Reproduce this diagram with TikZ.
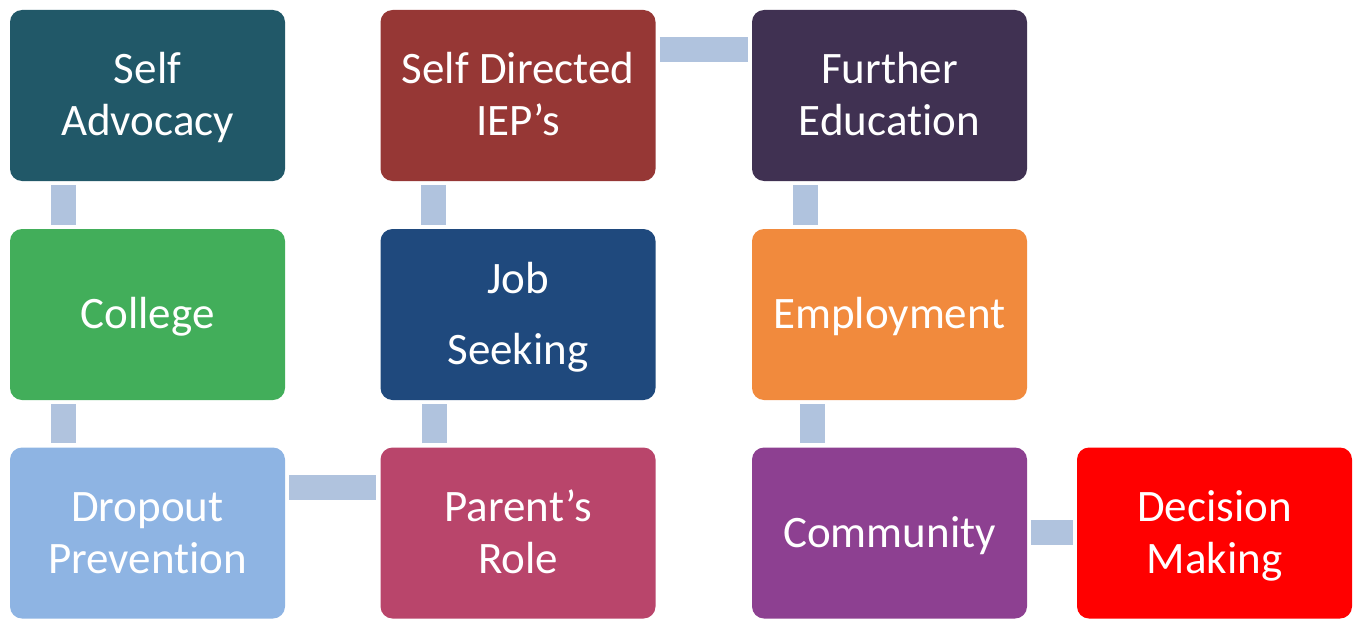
\documentclass[tikz,border=0pt]{standalone}
\usepackage{fontspec}
\setmainfont{Carlito}[Ligatures={TeX,NoCommon}]
\usepackage{tikz}
\definecolor{advocacyTeal}{RGB}{33,88,104}
\definecolor{iepRed}{RGB}{150,55,53}
\definecolor{educationPurple}{RGB}{64,49,82}
\definecolor{collegeGreen}{RGB}{66,174,90}
\definecolor{jobBlue}{RGB}{31,73,125}
\definecolor{employOrange}{RGB}{241,138,61}
\definecolor{dropoutBlue}{RGB}{142,180,227}
\definecolor{parentRose}{RGB}{185,69,107}
\definecolor{communityPurple}{RGB}{141,64,145}
\definecolor{decisionRed}{RGB}{255,0,0}
\definecolor{linkBlue}{RGB}{176,195,222}
\newcommand{\lift}{\rule[-12pt]{0pt}{52pt}}

\begin{document}
\begin{tikzpicture}[x=1pt, y=-1pt,
    box/.style={rectangle, rounded corners=12pt, minimum width=275pt, minimum height=171pt,
      text=white, align=center, font=\fontsize{45}{52}\selectfont},
    link/.style={draw=linkBlue, line width=25pt, shorten <=4pt, shorten >=4pt}]

    \useasboundingbox (0,0) rectangle (1356,618);

    % top row
    \node[box, fill=advocacyTeal] (advocacy) at (147.5,95.5) {\lift Self\\\lift Advocacy};
    \node[box, fill=iepRed] (iep) at (518,95.5) {\lift Self Directed\\\lift IEP's};
    \node[box, fill=educationPurple] (education) at (889.5,95.5) {\lift Further\\\lift Education};

    % middle row
    \node[box, fill=collegeGreen] (college) at (147.5,314.5) {\lift College};
    \node[box, fill=jobBlue] (job) at (518,314.5) {\lift Job\\[19pt]\lift Seeking};
    \node[box, fill=employOrange] (employ) at (889.5,314.5) {\lift Employment};

    % bottom row
    \node[box, fill=dropoutBlue] (dropout) at (147.5,533) {\lift Dropout\\\lift Prevention};
    \node[box, fill=parentRose] (parent) at (518,533) {\lift Parent's\\\lift Role};
    \node[box, fill=communityPurple] (community) at (889.5,533) {\lift Community};
    \node[box, fill=decisionRed] (decision) at (1214.5,533) {\lift Decision\\\lift Making};

    % links
    \draw[link] ([xshift=53.5pt]advocacy.south west) -- ([xshift=53.5pt]college.north west);
    \draw[link] ([xshift=53.5pt]college.south west) -- ([xshift=53.5pt]dropout.north west);
    \draw[link] ([yshift=-40.5pt]dropout.north east) -- ([yshift=-40.5pt]parent.north west);
    \draw[link] ([xshift=54pt]parent.north west) -- ([xshift=54pt]job.south west);
    \draw[link] ([xshift=53.5pt]job.north west) -- ([xshift=53.5pt]iep.south west);
    \draw[link] ([yshift=-40pt]iep.north east) -- ([yshift=-40pt]education.north west);
    \draw[link] ([xshift=53.5pt]education.south west) -- ([xshift=53.5pt]employ.north west);
    \draw[link] ([xshift=60.5pt]employ.south west) -- ([xshift=60.5pt]community.north west);
    \draw[link] ([yshift=1pt]community.east) -- ([yshift=1pt]decision.west);

\end{tikzpicture}
\end{document}
